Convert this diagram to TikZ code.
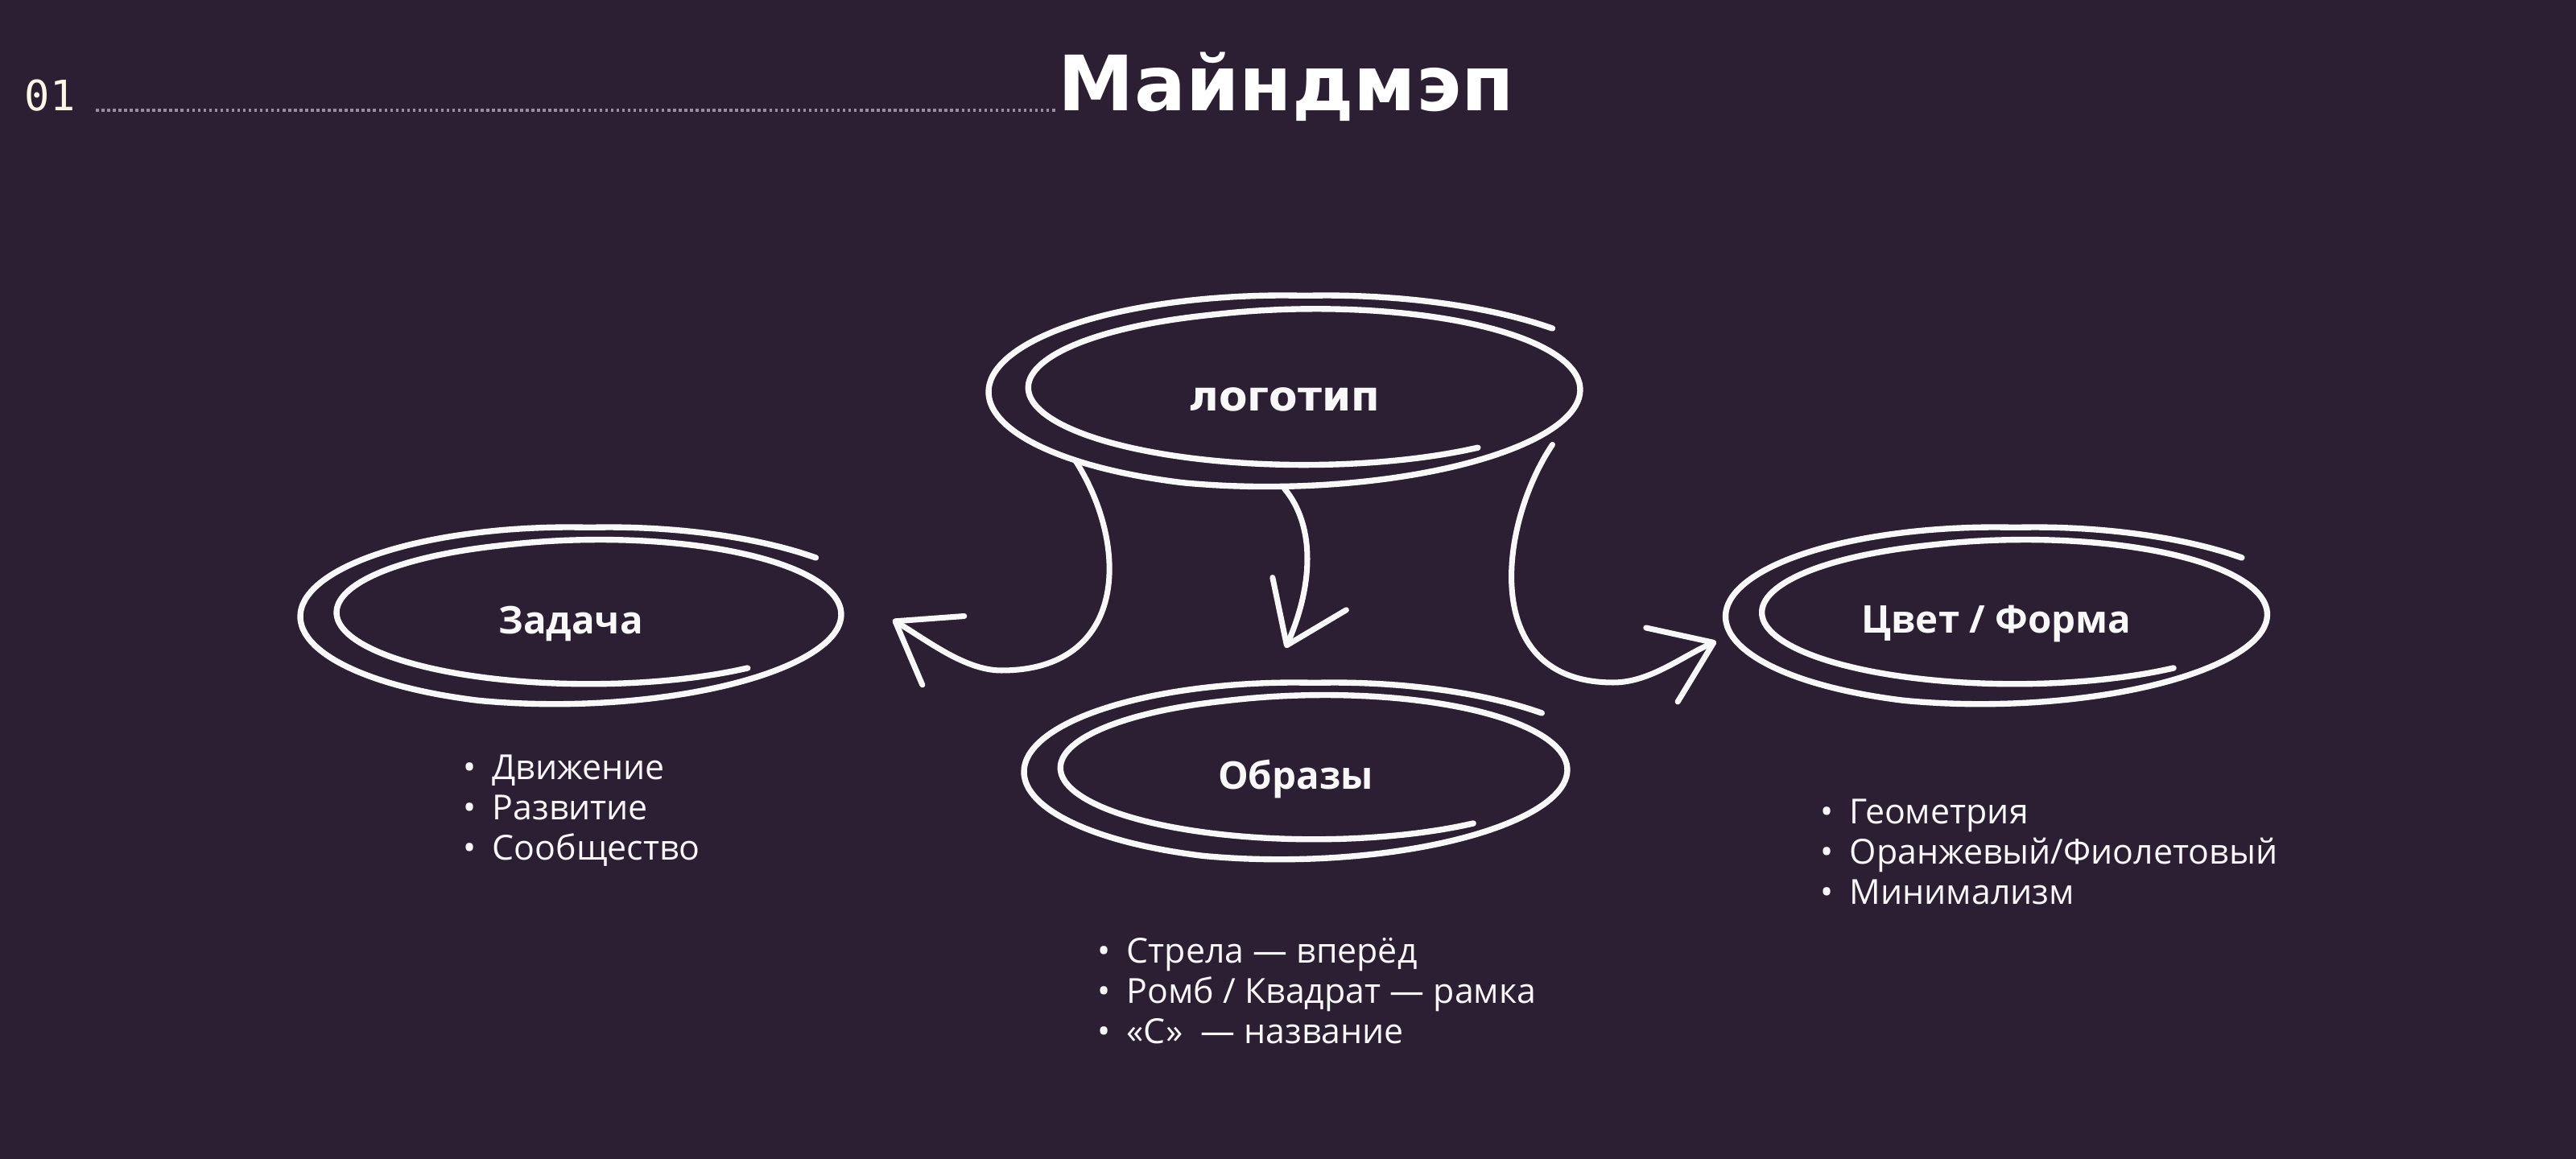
\documentclass[tikz,border=0pt]{standalone}
\usepackage{fontspec}
\setmainfont{Open Sans}
\newfontfamily\headfont{DejaVu Sans}
\newfontfamily\numfont{DejaVu Sans Mono}
\usetikzlibrary{positioning,arrows.meta,shapes.geometric}

\definecolor{bg}{RGB}{44,30,51}
\definecolor{ink}{RGB}{248,248,248}
\definecolor{cream}{RGB}{255,247,228}
\definecolor{leadgray}{RGB}{150,142,158}

% hand drawn double loop round a node: node, half width, half height
\newcommand{\scribble}[3]{%
  \draw[sketch, shift={(#1.center)}, yshift=0.9mm]
    plot[smooth, domain=36:669, samples=140, variable=\t]
    ({(0.067*wob(\t)+(1-0.067*wob(\t))*tl(\t)*cos(\t))*#2},
     {(0.045*wob(\t)+(1-0.2*wob(\t))*tl(\t)*sin(\t))*#3});
}

\begin{document}
\begin{tikzpicture}[
  declare function={wob(\t)=min(1,max(0,(\t-250)/220));
                    tl(\t)=1+0.12*max(0,1-(\t-36)/50);},
  sketch/.style={draw=ink, line width=2.1pt, line cap=round, line join=round},
  flow/.style={draw=ink, line width=2pt, line cap=round,
    -{Straight Barb[length=7mm, width=10mm, round]}},
  idea/.style={ellipse, inner sep=0pt, outer sep=0pt, text=ink,
    font=\bfseries\fontsize{13.5}{16}\selectfont},
  item/.style={anchor=base west, inner sep=0pt, text=ink,
    font=\fontsize{12.2}{14}\selectfont}
]
  % Background
  \fill[bg] (0,0) rectangle (32,14.4);

  % Header
  \node[anchor=base west, inner sep=0pt, text=cream,
    font=\numfont\fontsize{14.8}{16}\selectfont] (num) at (0.30,13.02) {01};
  \node[anchor=base west, inner sep=0pt, text=white,
    font=\headfont\bfseries\fontsize{27}{30}\selectfont] (title) at (13.14,13.02) {Майндмэп};
  \draw[leadgray, densely dotted, line width=1pt]
    ([xshift=2.5mm,yshift=0.1mm]num.base east) -- ([xshift=-0.2mm,yshift=0.1mm]title.base west);

  % Ideas
  \node[idea, minimum width=7.35cm, minimum height=2.4cm,
    font=\headfont\bfseries\fontsize{14.7}{16}\selectfont] (logo) at (15.955,9.44) {логотип};
  \node[idea, minimum width=6.72cm, minimum height=2.22cm] (task) at (7.09,6.65) {Задача};
  \node[idea, minimum width=6.75cm, minimum height=2.22cm] (images) at (16.095,4.72) {Образы};
  \node[idea, minimum width=6.73cm, minimum height=2.22cm] (colour) at (24.80,6.65) {Цвет / Форма};

  \scribble{logo}{3.675}{1.20}
  \scribble{task}{3.36}{1.11}
  \scribble{images}{3.375}{1.11}
  \scribble{colour}{3.365}{1.11}

  % Arrows
  \coordinate (to task) at (11.09,6.70);
  \coordinate (to images) at (15.97,6.35);
  \coordinate (to colour) at (21.32,6.43);
  \draw[flow] ([yshift=0.9mm]logo.south west) .. controls +(0.69,-1.08) and +(1.56,0) .. (12.44,6.07)
    .. controls +(-0.44,0) and +(0.46,-0.28) .. (to task);
  \draw[flow] ([yshift=0.9mm]logo.south) .. controls +(0.40,-0.48) and +(0.33,0.75) .. (to images);
  \draw[flow] ([xshift=2.5mm,yshift=0.9mm]logo.-12) .. controls +(-0.65,-0.96) and +(-1.69,0) .. (20.04,5.92)
    .. controls +(0.46,0) and +(-0.42,-0.18) .. (to colour);

  % Lists
  \foreach \txt [count=\i] in {Движение,Развитие,Сообщество}
    \node[item] (task-\i) at (5.75,5.21-0.5*\i) {\makebox[3.6mm][l]{•}\txt};
  \foreach \txt [count=\i] in {Стрела — вперёд,Ромб / Квадрат — рамка,«С»~ — название}
    \node[item] (images-\i) at (13.63,2.93-0.5*\i) {\makebox[3.6mm][l]{•}\txt};
  \foreach \txt [count=\i] in {Геометрия,Оранжевый/Фиолетовый,Минимализм}
    \node[item] (colour-\i) at (22.61,4.66-0.5*\i) {\makebox[3.6mm][l]{•}\txt};
\end{tikzpicture}
\end{document}
